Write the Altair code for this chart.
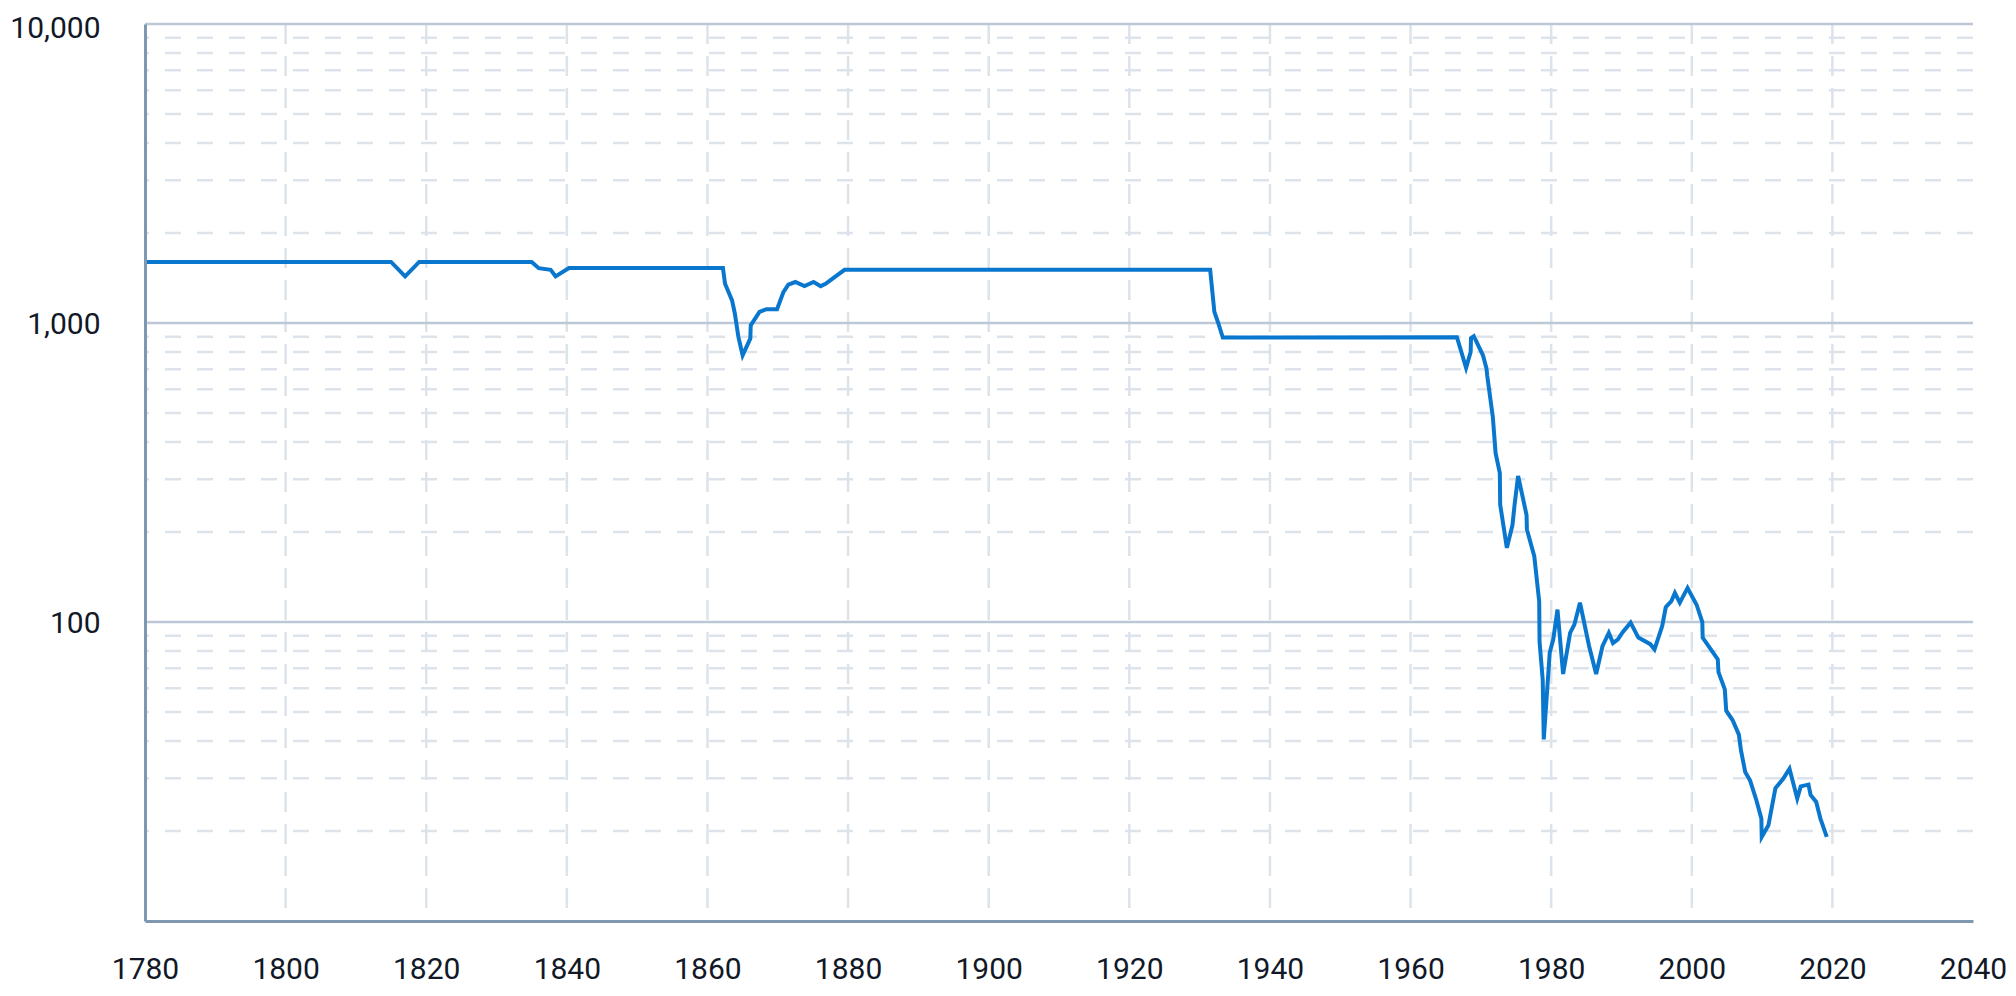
import altair as alt
import pandas as pd

YEARS = [
    1780, 1815, 1817, 1819, 1835, 1836, 1837.7, 1838.4, 1840.3, 1862.2,
    1862.5, 1863.5, 1863.9, 1864.4, 1865.0, 1866.1, 1866.15, 1867.4, 1868.4, 1869.9,
    1870.8, 1871.5, 1872.5, 1873.8, 1875.1, 1876.1, 1876.8, 1877.6, 1879.5, 1931.5,
    1932.1, 1932.6, 1933.3, 1966.6, 1967.9, 1968.55, 1968.6, 1969.0, 1970.3, 1970.8,
    1970.9, 1971.7, 1972.1, 1972.7, 1972.75, 1973.7, 1974.5, 1974.8, 1975.3, 1976.5,
    1976.55, 1977.6, 1978.3, 1978.35, 1978.8, 1978.95, 1979.8, 1980.3, 1980.9, 1981.7,
    1982.7, 1983.3, 1984.1, 1985.4, 1986.4, 1987.3, 1988.2, 1988.8, 1989.5, 1990.2,
    1991.3, 1992.4, 1994.1, 1994.7, 1995.8, 1996.3, 1997.1, 1997.6, 1998.3, 1999.4,
    2000.7, 2001.5, 2001.55, 2003.7, 2003.8, 2004.7, 2004.9, 2005.8, 2006.7, 2007.0,
    2007.6, 2008.3, 2009.2, 2009.9, 2009.95, 2010.9, 2011.9, 2013.0, 2013.9, 2015.0,
    2015.5, 2016.6, 2016.9, 2017.7, 2018.3, 2019.2,
]
VALUES = [
    1600, 1600, 1432, 1600, 1600, 1525, 1506, 1432, 1528, 1528,
    1352, 1190, 1074, 898, 780, 888, 982, 1089, 1112, 1112,
    1268, 1343, 1371, 1328, 1371, 1328, 1352, 1396, 1506, 1506,
    1089, 1008, 894, 896, 708, 800, 890, 903, 780, 705,
    669, 486, 367, 315, 247, 177, 211, 247, 308, 228,
    204, 166, 117, 86, 64, 40.5, 79, 87.5, 110, 67,
    92, 98, 116, 83, 67, 83, 92, 85, 87.5, 92.6,
    99.5, 88.7, 84.3, 81, 97, 112, 117.5, 125, 116, 130,
    114, 100, 88.7, 75, 68, 59.5, 50.5, 47, 42, 37.2,
    31.5, 29.5, 25.3, 22.0, 19.1, 20.9, 27.8, 29.9, 32.3, 25.7,
    28.2, 28.6, 26.4, 25.0, 22.0, 19.1,
]

MAJOR_TICKS = [100, 1000, 10000]
MINOR_TICKS = [20, 30, 40, 50, 60, 70, 80, 90,
               200, 300, 400, 500, 600, 700, 800, 900,
               2000, 3000, 4000, 5000, 6000, 7000, 8000, 9000]
X_TICKS = [1780, 1800, 1820, 1840, 1860, 1880, 1900, 1920, 1940, 1960, 1980, 2000, 2020, 2040]
X_GRID = [1800, 1820, 1840, 1860, 1880, 1900, 1920, 1940, 1960, 1980, 2000, 2020]

df = pd.DataFrame({"year": YEARS, "value": VALUES})

xscale = alt.Scale(domain=[1780, 2040], nice=False, zero=False)
yscale = alt.Scale(type="log", domain=[10, 10000], nice=False)

FONT = "Roboto"
LABEL_COLOR = "#111827"

XAXIS = alt.Axis(
    values=X_TICKS, format="d", grid=False, ticks=False, title=None,
    domainColor="#7f97b1", domainWidth=3, labelFont=FONT, labelFontSize=30,
    labelColor=LABEL_COLOR, labelPadding=33, labelFlush=False, labelOverlap=False,
    zindex=1,
)
YAXIS = alt.Axis(
    values=MAJOR_TICKS, format=",", grid=False, ticks=False, title=None,
    domainColor="#7f97b1", domainWidth=3, labelFont=FONT, labelFontSize=30,
    labelColor=LABEL_COLOR, labelPadding=45, labelFlush=False, labelOverlap=False,
    labelOffset={"condition": {"test": "datum.value >= 10000", "value": 4}, "value": 1},
    zindex=1,
)

minor = alt.Chart(pd.DataFrame({"v": MINOR_TICKS})).mark_rule(
    color="#dde3eb", strokeWidth=2.5, strokeDash=[16, 16]
).encode(y=alt.Y("v:Q", scale=yscale, axis=YAXIS, title=None))

vgrid = alt.Chart(pd.DataFrame({"x": X_GRID})).mark_rule(
    color="#dde3eb", strokeWidth=2.5, strokeDash=[20, 12]
).encode(x=alt.X("x:Q", scale=xscale, axis=XAXIS, title=None))

major = alt.Chart(pd.DataFrame({"v": MAJOR_TICKS})).mark_rule(
    color="#bcc8d6", strokeWidth=2.5
).encode(y=alt.Y("v:Q", scale=yscale, axis=YAXIS, title=None))

line = alt.Chart(df).mark_line(color="#0a77cf", strokeWidth=4).encode(
    x=alt.X("year:Q", scale=xscale, axis=XAXIS, title=None),
    y=alt.Y("value:Q", scale=yscale, axis=YAXIS, title=None),
)

chart = (
    alt.layer(minor, vgrid, major, line)
    .properties(
        width=1828,
        height=897,
        autosize=alt.AutoSizeParams(type="none"),
        padding={"left": 137, "top": 16, "right": 35, "bottom": 65},
    )
    .configure_view(stroke="transparent")
)

chart.save("out.html", embed_options={"renderer": "svg", "actions": False})
